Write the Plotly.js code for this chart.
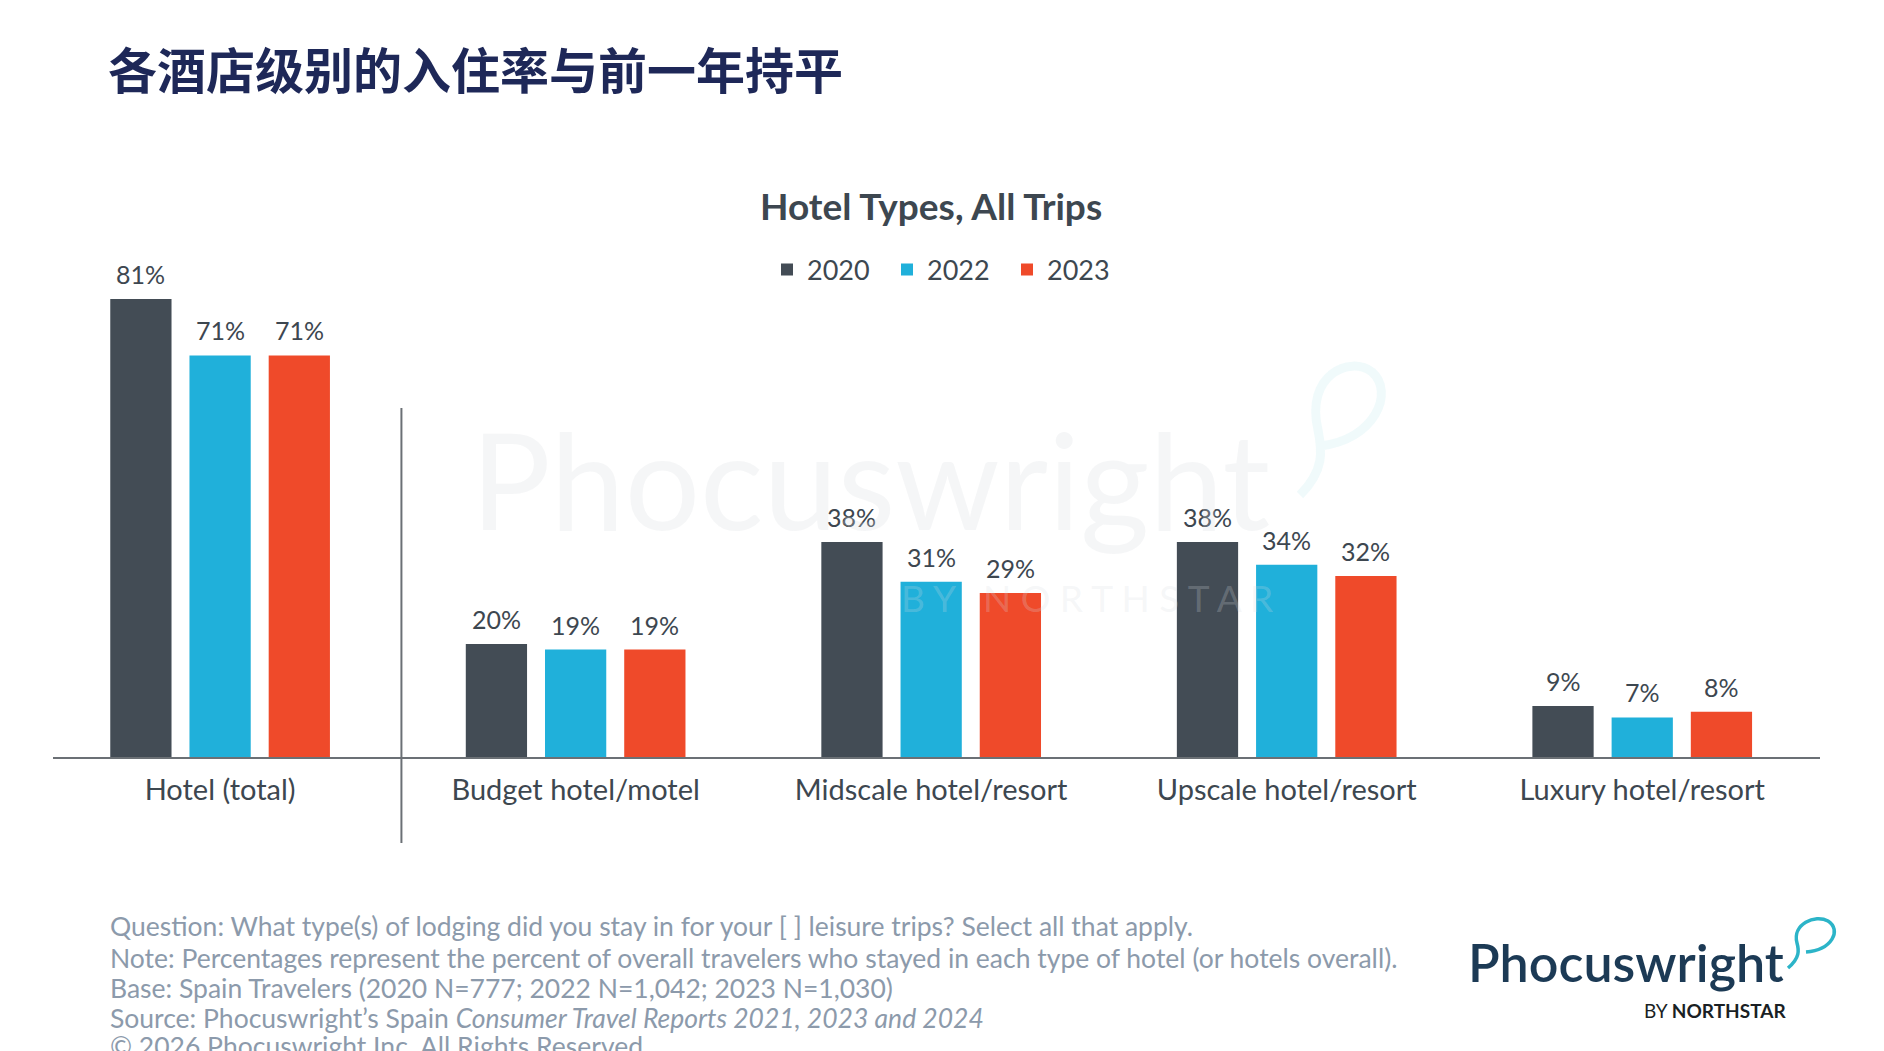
<!DOCTYPE html>
<html>
<head>
<meta charset="utf-8">
<script src="https://cdn.plot.ly/plotly-3.0.1.min.js"></script>
<style>html,body{margin:0;padding:0;background:#fff;}#chart{width:1884px;height:1051px;}</style>
</head>
<body>
<div id="chart"></div>
<script>
// ---- data ----
const categories = ["Hotel (total)", "Budget hotel/motel", "Midscale hotel/resort", "Upscale hotel/resort", "Luxury hotel/resort"];
const seriesNames = ["2020", "2022", "2023"];
const values2020 = [81, 20, 38, 38, 9];
const values2022 = [71, 19, 31, 34, 7];
const values2023 = [71, 19, 29, 32, 8];
const seriesColors = ["#434c55", "#20b0da", "#ef4a2a"];
const mainTitle = "各酒店级别的入住率与前一年持平";
const chartTitle = "Hotel Types, All Trips";
const footLines = [
  "Question: What type(s) of lodging did you stay in for your [ ] leisure trips? Select all that apply.",
  "Note: Percentages represent the percent of overall travelers who stayed in each type of hotel (or hotels overall).",
  "Base: Spain Travelers (2020 N=777; 2022 N=1,042; 2023 N=1,030)",
  "Source: Phocuswright’s Spain <i>Consumer Travel Reports 2021, 2023 and 2024</i>",
  "© 2026 Phocuswright Inc. All Rights Reserved"
];

// ---- layout geometry ----
const W = 1884, H = 1051;
const M = {l: 53, r: 64, t: 248, b: 294};
const plotW = W - M.l - M.r, plotH = H - M.t - M.b;
const px2x = px => (px - M.l) / plotW;
const py2y = py => (H - M.b - py) / plotH;

const textColor = "#3d4750";
const font = "Lato, 'Open Sans', sans-serif";

// bar grouping: slot width per bar (category units) -> bargap
const slot = 0.2228;
const groupGap = 0.2267;
const barGap = 1 - 3 * slot;

const allValues = [values2020, values2022, values2023];
const traces = allValues.map((vals, i) => ({
  type: "bar",
  name: seriesNames[i],
  x: categories,
  y: vals,
  marker: {color: seriesColors[i]},
  cliponaxis: false,
  hoverinfo: "skip"
}));

const annotations = [];
// value labels, placed through the axes at each bar's group offset
allValues.forEach((vals, i) => vals.forEach((v, j) => annotations.push({
  text: v + "%", xref: "x", yref: "y",
  x: j + (i - 1) * slot, y: v, xanchor: "center", yanchor: "middle", yshift: 25,
  showarrow: false, font: {family: font, size: 25, color: textColor}
})));
annotations.push({
  text: "<b>" + chartTitle + "</b>", xref: "paper", yref: "paper",
  x: px2x(931), y: py2y(206), xanchor: "center", yanchor: "middle",
  showarrow: false, font: {family: font, size: 37, color: textColor}
});
// watermark
annotations.push({
  text: "Phocuswright", xref: "paper", yref: "paper",
  x: px2x(870), y: py2y(478), xanchor: "center", yanchor: "middle",
  showarrow: false, font: {family: font, size: 133, color: "rgba(215,220,226,0.26)"}
});
annotations.push({
  text: "B Y   N O R T H S T A R", xref: "paper", yref: "paper",
  x: px2x(1087), y: py2y(597), xanchor: "center", yanchor: "middle",
  showarrow: false, font: {family: font, size: 37, color: "rgba(215,220,226,0.24)"}
});
const footY = [926, 958, 988, 1018, 1046];
footLines.forEach((t, i) => annotations.push({
  text: t, xref: "paper", yref: "paper",
  x: px2x(108), y: py2y(footY[i]), xanchor: "left", yanchor: "middle",
  showarrow: false, font: {family: font, size: 26.5, color: "#8c9aab"}
}));
// logo
annotations.push({
  text: "Phocuswright", xref: "paper", yref: "paper",
  x: px2x(1786), y: py2y(962), xanchor: "right", yanchor: "middle",
  showarrow: false, font: {family: font, size: 52, color: "#1c3a55", weight: 600}
});
annotations.push({
  text: "BY <b>NORTHSTAR</b>", xref: "paper", yref: "paper",
  x: px2x(1788), y: py2y(1010), xanchor: "right", yanchor: "middle",
  showarrow: false, font: {family: font, size: 19, color: "#1a1f24"}
});

function pathFromPx(pts) {
  return pts.map(p => p[0] + " " + p.slice(1).map((v, k) => k % 2 === 0 ? px2x(v) : py2y(v)).join(",")).join(" ");
}

const shapes = [
  {type: "line", xref: "x", yref: "paper", x0: 0.51, x1: 0.51, y0: py2y(843), y1: py2y(408),
   line: {color: "#6b7075", width: 2}},
  {type: "path", xref: "paper", yref: "paper",
   path: pathFromPx([["M", 1788, 968], ["C", 1800, 958, 1799, 950, 1797, 943], ["C", 1792, 924, 1815, 914, 1828, 921], ["C", 1842, 930, 1832, 950, 1806, 952]]),
   line: {color: "#2cb4c8", width: 3.5}, layer: "above"},
  {type: "path", xref: "paper", yref: "paper",
   path: pathFromPx([["M", 1300, 495], ["C", 1325, 470, 1322, 450, 1318, 430], ["C", 1305, 375, 1350, 355, 1372, 372], ["C", 1395, 392, 1375, 440, 1320, 446]]),
   line: {color: "rgba(90,200,215,0.09)", width: 9}, layer: "below"}
];

const layout = {
  width: W, height: H,
  margin: M,
  paper_bgcolor: "#ffffff", plot_bgcolor: "rgba(0,0,0,0)",
  font: {family: font, color: textColor},
  title: {
    text: "<b>" + mainTitle + "</b>",
    font: {family: "'Noto Sans CJK SC', sans-serif", size: 49, color: "#1e2858"},
    x: 108 / W, xref: "container", xanchor: "left",
    y: 1 - 72 / H, yref: "container", yanchor: "middle"
  },
  barmode: "group",
  bargap: barGap,
  bargroupgap: groupGap,
  showlegend: true,
  legend: {
    orientation: "h", x: px2x(767), y: py2y(270), xanchor: "left", yanchor: "middle",
    font: {family: font, size: 27, color: textColor},
    itemwidth: 30, entrywidth: 75, traceorder: "normal", bgcolor: "rgba(0,0,0,0)"
  },
  xaxis: {
    type: "category", range: [-0.47, 4.5],
    showline: true, linecolor: "#6b7075", linewidth: 2,
    ticks: "", showgrid: false, zeroline: false,
    tickfont: {family: font, size: 29, color: textColor},
    ticklabelstandoff: 6, fixedrange: true
  },
  yaxis: {
    range: [0, 90], visible: false, showgrid: false, zeroline: false, fixedrange: true
  },
  annotations: annotations,
  shapes: shapes
};

Plotly.newPlot("chart", traces, layout, {displayModeBar: false, staticPlot: true});
</script>
</body>
</html>
